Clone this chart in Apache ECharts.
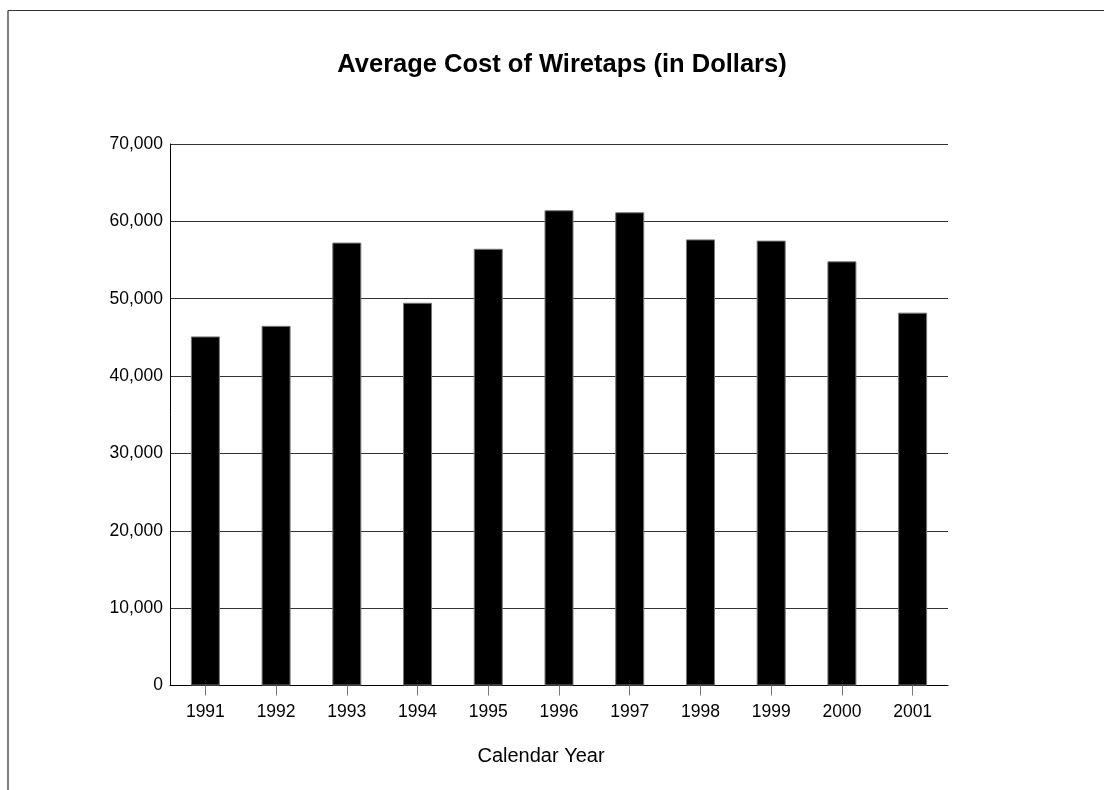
<!DOCTYPE html>
<html>
<head>
<meta charset="utf-8">
<script src="https://cdn.jsdelivr.net/npm/echarts@6/dist/echarts.min.js"></script>
<style>
html,body{margin:0;padding:0;background:#fff;}
#chart{width:1104px;height:790px;}
</style>
</head>
<body>
<div id="chart"></div>
<script>
const years = ['1991','1992','1993','1994','1995','1996','1997','1998','1999','2000','2001'];
const avgCost = [45125, 46492, 57256, 49478, 56454, 61436, 61176, 57669, 57511, 54829, 48198];
const titleText = 'Average Cost of Wiretaps (in Dollars)';
const xAxisTitle = 'Calendar Year';

const chart = echarts.init(document.getElementById('chart'));
const font = 'Liberation Sans, Arial, sans-serif';
chart.setOption({
  backgroundColor: '#fff',
  animation: false,
  title: [
    { text: titleText, left: 557, top: 47, textAlign: 'center',
      textStyle: { fontFamily: font, fontSize: 25.5, fontWeight: 'bold', color: '#000' } },
    { text: xAxisTitle, left: 536, top: 741, textAlign: 'center',
      textStyle: { fontFamily: font, fontSize: 20, fontWeight: 'normal', color: '#000' } }
  ],
  graphic: [
    { type: 'line', shape: { x1: 8, y1: 10.5, x2: 1104, y2: 10.5 }, style: { stroke: '#333', lineWidth: 1.2 } },
    { type: 'line', shape: { x1: 8, y1: 10.5, x2: 8, y2: 790 }, style: { stroke: '#555', lineWidth: 1.5 } }
  ],
  grid: { left: 170, right: 156, top: 144, bottom: 104.5, containLabel: false },
  xAxis: {
    type: 'category',
    data: years,
    axisLine: { show: true, lineStyle: { color: '#000', width: 1 } },
    axisTick: { show: true, alignWithLabel: true, length: 10, lineStyle: { color: '#777' } },
    axisLabel: { fontFamily: font, fontSize: 17.5, color: '#000', margin: 18 }
  },
  yAxis: {
    type: 'value',
    min: 0, max: 70000, interval: 10000,
    axisLine: { show: true, lineStyle: { color: '#000', width: 1 } },
    axisTick: { show: false },
    axisLabel: { fontFamily: font, fontSize: 17.5, color: '#000', margin: 7,
      formatter: v => v.toLocaleString('en-US') },
    splitLine: { show: true, lineStyle: { color: '#333', width: 1 } }
  },
  series: [{
    type: 'bar',
    data: avgCost,
    barWidth: '41%',
    itemStyle: { color: '#000', borderColor: '#777', borderWidth: 1 }
  }]
});
</script>
</body>
</html>
